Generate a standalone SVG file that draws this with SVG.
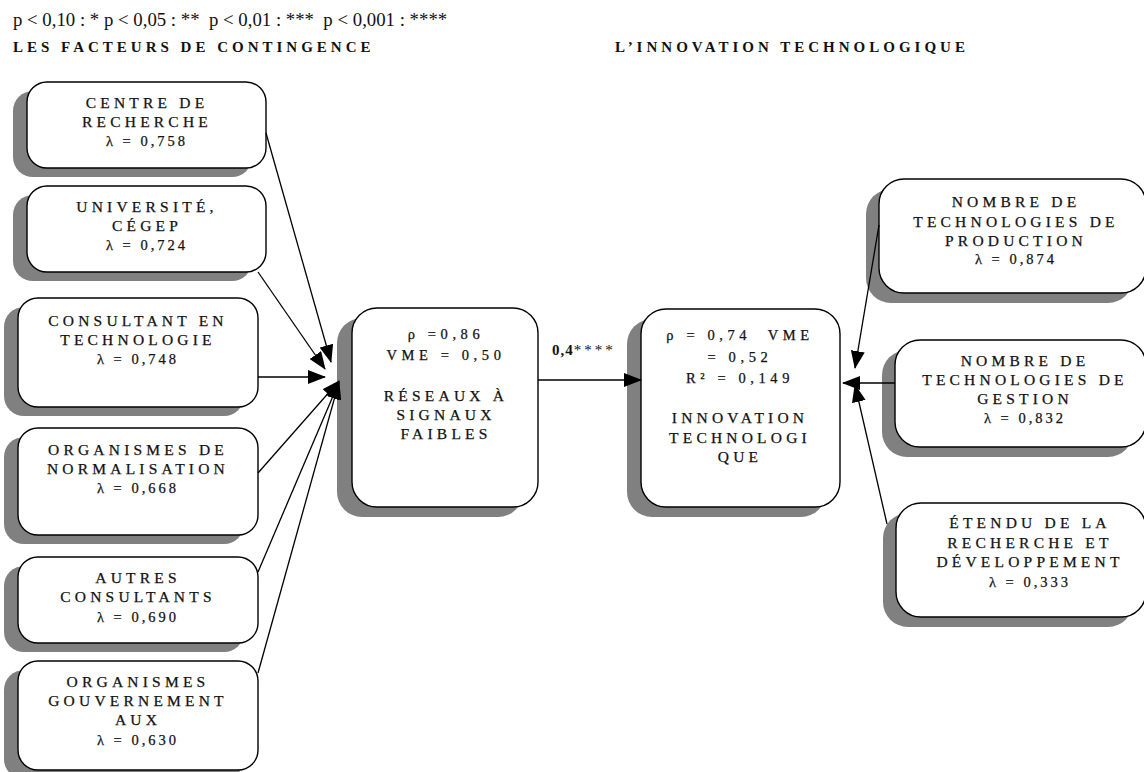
<svg xmlns="http://www.w3.org/2000/svg" width="1144" height="772" viewBox="0 0 1144 772">
<style>
text{font-family:"Liberation Serif","Times New Roman",serif;fill:#111;}
.t,.n,.m{stroke:#111;stroke-width:0.25px;}
.t{font-size:15.5px;letter-spacing:4.2px;text-anchor:middle;}
.n{font-size:14.5px;letter-spacing:3px;text-anchor:middle;}
.m{font-size:14.5px;letter-spacing:4.6px;text-anchor:middle;}
.h{font-size:15px;font-weight:bold;letter-spacing:4px;}
.sh{fill:#808080;}
.bx{fill:#fff;stroke:#000;stroke-width:1.4;}
.c line{stroke:#000;stroke-width:1.3;marker-end:url(#ah);}
</style>
<defs>
<marker id="ah" markerWidth="18" markerHeight="14" refX="17" refY="7" orient="auto" markerUnits="userSpaceOnUse"><path d="M0,0 L18,7 L0,14 z" fill="#000"/></marker>
</defs>
<rect width="1144" height="772" fill="#fff"/>
<text x="13" y="26" style="font-size:18.8px;white-space:pre" xml:space="preserve">p &lt; 0,10 : * p &lt; 0,05 : **  p &lt; 0,01 : ***  p &lt; 0,001 : ****</text>
<text class="h" x="13" y="52">LES FACTEURS DE CONTINGENCE</text>
<text class="h" x="615" y="52">L’INNOVATION TECHNOLOGIQUE</text>

<g id="n1"><rect class="sh" x="13" y="91" width="239" height="86" rx="20"/><rect class="bx" x="27" y="82" width="239" height="86" rx="20"/>
<text class="t" x="147" y="108">CENTRE DE</text><text class="t" x="147" y="127">RECHERCHE</text><text class="n" x="147" y="146">λ = 0,758</text></g>
<g id="n2"><rect class="sh" x="13" y="195" width="239" height="86" rx="20"/><rect class="bx" x="27" y="186" width="239" height="86" rx="20"/>
<text class="t" x="147" y="212">UNIVERSITÉ,</text><text class="t" x="147" y="231">CÉGEP</text><text class="n" x="147" y="250">λ = 0,724</text></g>
<g id="n3"><rect class="sh" x="4" y="307" width="240" height="109" rx="20"/><rect class="bx" x="18" y="298" width="240" height="109" rx="20"/>
<text class="t" x="138" y="326">CONSULTANT EN</text><text class="t" x="138" y="345">TECHNOLOGIE</text><text class="n" x="138" y="364">λ = 0,748</text></g>
<g id="n4"><rect class="sh" x="4" y="437" width="240" height="107" rx="20"/><rect class="bx" x="18" y="428" width="240" height="107" rx="20"/>
<text class="t" x="138" y="455">ORGANISMES DE</text><text class="t" x="138" y="474">NORMALISATION</text><text class="n" x="138" y="493">λ = 0,668</text></g>
<g id="n5"><rect class="sh" x="4" y="566" width="240" height="86" rx="20"/><rect class="bx" x="18" y="557" width="240" height="86" rx="20"/>
<text class="t" x="138" y="583">AUTRES</text><text class="t" x="138" y="602">CONSULTANTS</text><text class="n" x="138" y="622">λ = 0,690</text></g>
<g id="n6"><rect class="sh" x="4" y="670" width="240" height="109" rx="20"/><rect class="bx" x="18" y="661" width="240" height="109" rx="20"/>
<text class="t" x="138" y="687">ORGANISMES</text><text class="t" x="138" y="706">GOUVERNEMENT</text><text class="t" x="138" y="725">AUX</text><text class="n" x="138" y="745">λ = 0,630</text></g>

<g id="m1"><rect class="sh" x="337" y="318" width="186" height="199" rx="25"/><rect class="bx" x="352" y="308" width="186" height="199" rx="25"/>
<text class="m" x="446" y="339">ρ =0,86</text><text class="m" x="446" y="360">VME = 0,50</text><text class="t" x="446" y="401">RÉSEAUX À</text><text class="t" x="446" y="420">SIGNAUX</text><text class="t" x="446" y="439">FAIBLES</text></g>
<g id="m2"><rect class="sh" x="627" y="319" width="199" height="198" rx="25"/><rect class="bx" x="641" y="309" width="199" height="198" rx="25"/>
<text class="m" x="740" y="340" style="white-space:pre" xml:space="preserve">ρ = 0,74  VME</text><text class="m" x="740" y="362">= 0,52</text><text class="m" x="740" y="383">R² = 0,149</text><text class="t" x="740" y="423">INNOVATION</text><text class="t" x="740" y="443">TECHNOLOGI</text><text class="t" x="740" y="462">QUE</text></g>

<g id="r1"><rect class="sh" x="866" y="189" width="267" height="114" rx="25"/><rect class="bx" x="879" y="179" width="267" height="114" rx="25"/>
<text class="t" x="1016" y="207">NOMBRE DE</text><text class="t" x="1016" y="227">TECHNOLOGIES DE</text><text class="t" x="1016" y="246">PRODUCTION</text><text class="n" x="1016" y="264">λ = 0,874</text></g>
<g id="r2"><rect class="sh" x="882" y="350" width="251" height="107" rx="25"/><rect class="bx" x="895" y="340" width="251" height="107" rx="25"/>
<text class="t" x="1025" y="366">NOMBRE DE</text><text class="t" x="1025" y="385">TECHNOLOGIES DE</text><text class="t" x="1025" y="404">GESTION</text><text class="n" x="1025" y="423">λ = 0,832</text></g>
<g id="r3"><rect class="sh" x="883" y="513" width="250" height="114" rx="25"/><rect class="bx" x="896" y="503" width="250" height="114" rx="25"/>
<text class="t" x="1030" y="528">ÉTENDU DE LA</text><text class="t" x="1030" y="548">RECHERCHE ET</text><text class="t" x="1030" y="567">DÉVELOPPEMENT</text><text class="n" x="1030" y="587">λ = 0,333</text></g>

<g class="c" id="connectors">
<line x1="266" y1="133" x2="331" y2="362"/>
<line x1="258" y1="272" x2="325" y2="369"/>
<line x1="258" y1="377" x2="325" y2="377"/>
<line x1="258" y1="473" x2="339" y2="381"/>
<line x1="258" y1="572" x2="339" y2="382"/>
<line x1="258" y1="673" x2="339" y2="382"/>
<line x1="538" y1="380" x2="641" y2="380"/>
<line x1="879" y1="225" x2="855" y2="368"/>
<line x1="895" y1="383" x2="843" y2="383"/>
<line x1="887" y1="524" x2="855" y2="385"/>
</g>
<text x="552" y="355" style="font-size:15px;letter-spacing:1px"><tspan font-weight="bold">0,4</tspan><tspan style="letter-spacing:3px">****</tspan></text>
</svg>
